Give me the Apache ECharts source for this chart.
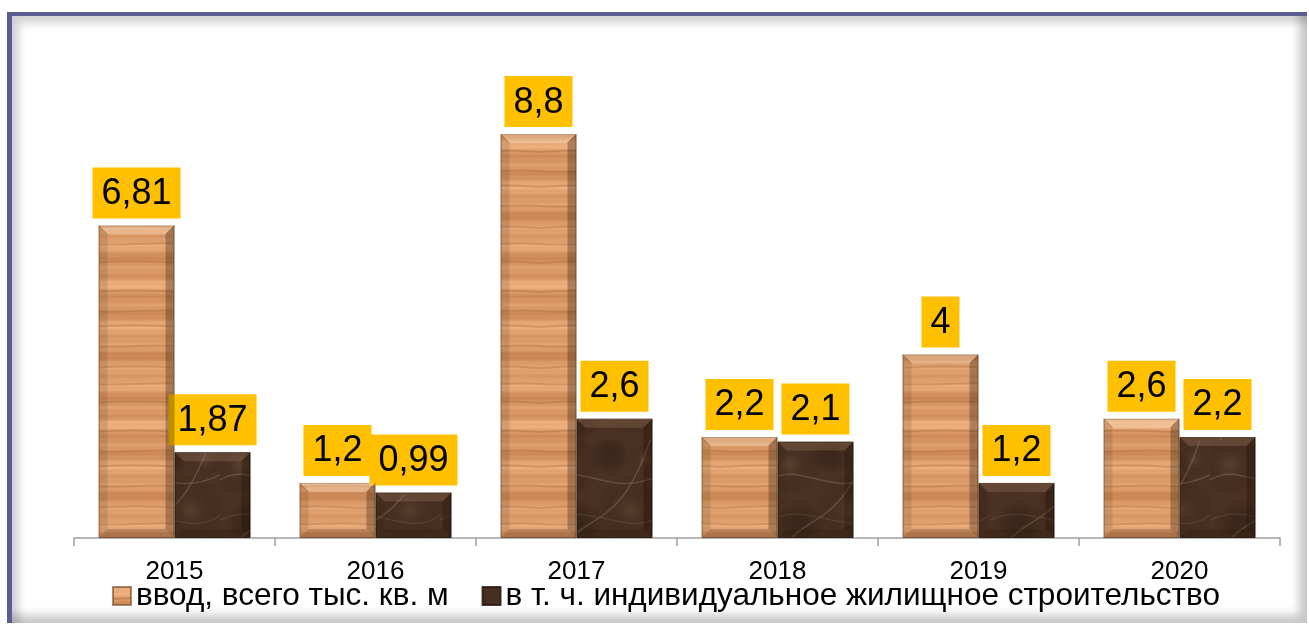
<!DOCTYPE html>
<html><head><meta charset="utf-8">
<script src="https://cdn.jsdelivr.net/npm/echarts@6/dist/echarts.min.js"></script>
<style>
html,body{margin:0;padding:0;background:#fff;}
#chart{position:absolute;left:0;top:0;width:1309px;height:626px;}
#frame{position:absolute;left:7px;top:12px;width:1300px;height:611px;box-sizing:border-box;
border-left:5px solid #5A5D92;border-top:4px solid #5A5D92;
box-shadow: inset 7px 7px 9px rgba(0,0,0,0.18), inset -8px -8px 10px rgba(0,0,0,0.22);pointer-events:none;}
</style></head>
<body>
<div id="chart"></div>
<div id="frame"></div>
<script>
const categories = ['2015','2016','2017','2018','2019','2020'];
const seriesNames = ['ввод, всего тыс. кв. м','в т. ч. индивидуальное жилищное строительство'];
const totalValues = [6.81, 1.2, 8.8, 2.2, 4, 2.6];
const individualValues = [1.87, 0.99, 2.6, 2.1, 1.2, 2.2];

function woodLight(){
  const c=document.createElement('canvas'); c.width=90; c.height=140;
  const g=c.getContext('2d');
  for(let y=0;y<140;y++){
    const t=0.5+0.22*Math.sin(y*0.31)+0.18*Math.sin(y*0.13+1.3)+0.08*Math.sin(y*1.1);
    const r=Math.round(198+42*t), gg=Math.round(130+50*t), b=Math.round(80+50*t);
    g.fillStyle='rgb('+r+','+gg+','+b+')'; g.fillRect(0,y,90,1);
  }
  g.strokeStyle='rgba(150,90,45,0.3)'; g.lineWidth=2;
  [12,31,47,66,88,104,123].forEach(function(y,i){
    g.beginPath(); g.moveTo(0,y); g.bezierCurveTo(30,y+2*(i%2?1:-1),60,y-2,90,y); g.stroke();
  });
  return c;
}
function marbleDark(){
  const c=document.createElement('canvas'); c.width=110; c.height=110;
  const g=c.getContext('2d');
  g.fillStyle='#4a3122'; g.fillRect(0,0,110,110);
  const blobs=[[20,25,30,'rgba(120,88,66,0.4)'],[80,70,35,'rgba(110,80,58,0.4)'],[60,15,20,'rgba(40,25,15,0.4)'],[30,85,25,'rgba(35,22,14,0.4)'],[95,20,18,'rgba(125,95,75,0.3)']];
  blobs.forEach(function(b){const rg=g.createRadialGradient(b[0],b[1],0,b[0],b[1],b[2]);rg.addColorStop(0,b[3]);rg.addColorStop(1,'rgba(0,0,0,0)');g.fillStyle=rg;g.fillRect(0,0,110,110);});
  g.strokeStyle='rgba(175,145,120,0.3)'; g.lineWidth=1.5;
  g.beginPath(); g.moveTo(0,40); g.bezierCurveTo(30,20,60,60,110,35); g.stroke();
  g.beginPath(); g.moveTo(10,110); g.bezierCurveTo(40,70,70,90,100,0); g.stroke();
  g.strokeStyle='rgba(150,120,95,0.22)';
  g.beginPath(); g.moveTo(0,80); g.bezierCurveTo(40,60,80,100,110,75); g.stroke();
  return c;
}
const lightPat={image:woodLight(),repeat:'repeat'};
const darkPat={image:marbleDark(),repeat:'repeat'};

function fmt(p){return String(p.value).replace('.',',');}
const labelStyle={show:true,position:'top',distance:7,formatter:fmt,fontFamily:'Liberation Sans, Arial, sans-serif',
  fontSize:36,lineHeight:39,color:'#000',backgroundColor:'#FFC000',padding:[7,9,5,9]};

const BAR_W=76;
function bevel(offsetSign, topFill){
  return function(params, api){
    const top=api.coord([api.value(0), api.value(1)]);
    const base=api.coord([api.value(0), 0]);
    const x0=top[0]+(offsetSign<0?-BAR_W:0), x1=x0+BAR_W, y0=top[1], y1=base[1];
    const b=Math.min(9,(y1-y0)/2);
    return {type:'group',children:[
      {type:'polygon',shape:{points:[[x0,y0],[x1,y0],[x1-b,y0+b],[x0+b,y0+b]]},style:{fill:topFill}},
      {type:'polygon',shape:{points:[[x1,y0],[x1,y1],[x1-b,y1-b],[x1-b,y0+b]]},style:{fill:'rgba(20,10,0,0.28)'}},
      {type:'polygon',shape:{points:[[x0,y0],[x0+b,y0+b],[x0+b,y1-b],[x0,y1]]},style:{fill:'rgba(60,30,10,0.12)'}},
      {type:'polygon',shape:{points:[[x0,y1],[x0+b,y1-b],[x1-b,y1-b],[x1,y1]]},style:{fill:'rgba(40,20,5,0.22)'}},
      {type:'polyline',shape:{points:[[x0,y0],[x0+b,y0+b]]},style:{stroke:'rgba(90,50,20,0.35)',lineWidth:1}},
      {type:'polyline',shape:{points:[[x1,y0],[x1-b,y0+b]]},style:{stroke:'rgba(90,50,20,0.35)',lineWidth:1}}
    ]};
  };
}
const totalPairs=categories.map(function(c,i){return [i,totalValues[i]];});
const indPairs=categories.map(function(c,i){return [i,individualValues[i]];});

const chart=echarts.init(document.getElementById('chart'));
chart.setOption({
  animation:false,
  grid:{left:74,right:29,top:79,bottom:88},
  legend:{left:107,top:575,itemWidth:18,itemHeight:18,itemGap:33,icon:'rect',
    textStyle:{fontFamily:'Liberation Sans, Arial, sans-serif',fontSize:31.5,color:'#000',padding:[0,0,0,0]},
    data:seriesNames},
  xAxis:{type:'category',data:categories,
    axisLine:{show:true,lineStyle:{color:'#A0A0A0',width:1.5}},
    axisTick:{show:true,length:8,lineStyle:{color:'#A0A0A0',width:1.5}},
    axisLabel:{margin:21,color:'#000',fontSize:26,fontFamily:'Liberation Sans, Arial, sans-serif'}},
  yAxis:{type:'value',min:0,max:10,show:false,splitLine:{show:false}},
  series:[
    {name:seriesNames[0],type:'bar',data:totalValues,barWidth:BAR_W,barGap:'0%',
     itemStyle:{color:lightPat,borderColor:'rgba(110,65,30,0.6)',borderWidth:1},label:labelStyle},
    {name:seriesNames[1],type:'bar',data:individualValues,barWidth:BAR_W,
     itemStyle:{color:darkPat,borderColor:'rgba(30,18,10,0.8)',borderWidth:1},label:labelStyle},
    {type:'custom',data:totalPairs,renderItem:bevel(-1,'rgba(255,240,220,0.28)'),silent:true,z:3,encode:{x:0,y:1}},
    {type:'custom',data:indPairs,renderItem:bevel(1,'rgba(150,115,90,0.35)'),silent:true,z:3,encode:{x:0,y:1}}
  ]
});
</script>
</body></html>
